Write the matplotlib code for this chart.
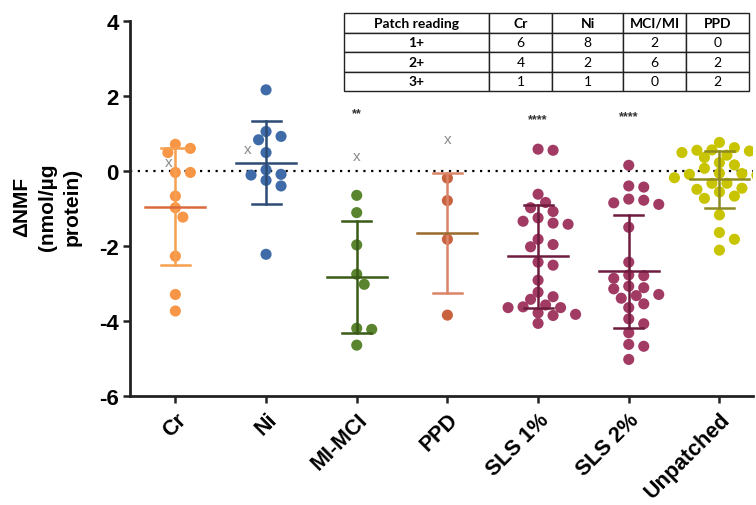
import numpy as np
import matplotlib
matplotlib.use("Agg")
import matplotlib.pyplot as plt

plt.rcParams['font.family'] = ['Liberation Sans', 'DejaVu Sans']
plt.rcParams['axes.unicode_minus'] = False

groups = ["Cr", "Ni", "MI-MCI", "PPD", "SLS 1%", "SLS 2%", "Unpatched"]

cr = [0.71, 0.60, 0.49, -0.04, -0.04, -0.67, -0.98, -1.23, -2.27, -3.29, -3.73]
ni = [2.16, 1.05, 0.92, 0.83, 0.49, 0.03, -0.09, -0.11, -0.25, -0.40, -2.22]
mi_mci = [-0.65, -1.11, -1.97, -2.75, -3.02, -4.19, -4.22, -4.64]
ppd = [-0.19, -0.79, -1.82, -3.84]
sls1 = [0.58, 0.55, -0.62, -0.98, -0.84, -1.08, -1.25, -1.39, -1.42, -1.34,
        -1.82, -2.02, -1.96, -2.43, -2.51, -2.91, -3.23, -3.35, -3.42, -3.57,
        -3.64, -3.64, -3.62, -3.82, -3.85, -3.78, -4.06]
sls2 = [0.15, -0.43, -0.40, -0.75, -0.85, -0.89, -0.78, -1.50, -2.43, -2.79,
        -2.86, -2.77, -3.07, -3.14, -3.11, -3.32, -3.39, -3.29, -3.54, -3.64,
        -3.94, -4.07, -4.31, -4.67, -4.62, -5.02]
unpatched = [0.76, 0.62, 0.55, 0.49, 0.53, 0.56, 0.42, 0.36, 0.16, 0.22, 0.07,
             -0.07, -0.11, -0.09, -0.06, -0.18, -0.33, -0.33, -0.46, -0.49,
             -0.56, -0.67, -0.73, -1.17, -1.64, -1.82, -2.11]
values = [cr, ni, mi_mci, ppd, sls1, sls2, unpatched]

# grey "x" marks (group index, value)
x_marks = [(0, 0.25), (1, 0.58), (2, 0.40), (3, 0.86)]
# significance stars (group index, text, height)
stars = [(2, "**", 1.54), (4, "****", 1.38), (5, "****", 1.46)]

table_cols = ["Patch reading", "Cr", "Ni", "MCI/MI", "PPD"]
table_rows = [["1+", "6", "8", "2", "0"],
              ["2+", "4", "2", "6", "2"],
              ["3+", "1", "1", "0", "2"]]

point_colors = ["#F79646", "#3F6CA8", "#5A842D", "#C9633F", "#A13B63", "#A13B63", "#C9C400"]
sd_colors = ["#F7A04F", "#2D4B75", "#3A5A17", "#DB8468", "#6E1C3E", "#6E1C3E", "#8F8C1E"]
mean_colors = ["#DA6A3E", "#2D4B75", "#3A5A17", "#9A6A2C", "#6E1C3E", "#6E1C3E", "#8F8C1E"]


def swarm(ax, xc, vals, diam, step):
    # simple beeswarm in pixel space
    pts = ax.transData.transform([(xc, v) for v in vals])
    order = np.argsort(-pts[:, 1])
    placed = []
    xs = np.zeros(len(vals))
    for i in order:
        px, py = pts[i]
        for k in range(40):
            off = ((k + 1) // 2) * step * (1 if k % 2 else -1) if k else 0
            ok = all((px + off - qx) ** 2 + (py - qy) ** 2 >= (diam * 0.98) ** 2
                     for qx, qy in placed)
            if ok:
                placed.append((px + off, py))
                xs[i] = px + off
                break
    inv = ax.transData.inverted()
    return inv.transform(np.column_stack([xs, pts[:, 1]]))[:, 0]


fig = plt.figure(figsize=(7.56, 5.06), dpi=100)
ax = fig.add_axes([0.172, 0.215, 0.824, 0.742])
ax.set_xlim(-0.5, 6.37)
ax.set_ylim(-6, 4)

ax.axhline(0, color="black", lw=1.6, ls=(0, (1, 2.5)), zorder=1)

for i, vals in enumerate(values):
    xs = swarm(ax, i, vals, 10.5, 7.5)
    ax.scatter(xs, vals, s=64, color=point_colors[i], edgecolors="none", zorder=3)
    m = np.mean(vals)
    sd = np.std(vals, ddof=1)
    ax.plot([i, i], [m - sd, m + sd], color=sd_colors[i], lw=1.8, zorder=4)
    for y in (m - sd, m + sd):
        ax.plot([i - 0.16, i + 0.16], [y, y], color=sd_colors[i], lw=1.8, zorder=4)
    ax.plot([i - 0.33, i + 0.33], [m, m], color=mean_colors[i], lw=1.8, zorder=4)

for gi, v in x_marks:
    dx = {0: -0.07, 1: -0.2}.get(gi, 0)
    ax.text(gi + dx, v, "x", color="#8a8a8a", fontsize=11, ha="center", va="center")

for gi, s, h in stars:
    ax.text(gi, h, s, color="#333333", fontsize=9, fontweight="bold", ha="center", va="center")

ax.set_yticks([-6, -4, -2, 0, 2, 4])
ax.set_xticks(range(len(groups)))
ax.set_xticklabels(groups, rotation=45, ha="right", rotation_mode="anchor")
for lab in ax.get_xticklabels():
    lab.set_fontweight("bold")
    lab.set_fontsize(15.5)
for lab in ax.get_yticklabels():
    lab.set_fontweight("bold")
    lab.set_fontsize(16)
ax.tick_params(axis="both", width=1.8, length=5, color="#222222")
ax.tick_params(axis="x", pad=4)
ax.tick_params(axis="y", pad=3)
for side in ("top", "right"):
    ax.spines[side].set_visible(False)
for side in ("left", "bottom"):
    ax.spines[side].set_linewidth(2)
    ax.spines[side].set_color("#222222")

fig.text(47 / 756, 1 - 207 / 506, "\u0394NMF\n(nmol/\u00b5g\nprotein)", rotation=90,
         ha="center", va="center", fontsize=15, fontweight="bold", linespacing=1.4,
         multialignment="center")

# reading table in the upper right
tax = fig.add_axes([344 / 756, 1 - 92 / 506, 405 / 756, 78 / 506])
tax.axis("off")
tbl = tax.table(cellText=table_rows, colLabels=table_cols, cellLoc="center",
                bbox=[0, 0, 1, 1], colWidths=[145, 63, 71, 63, 63])
tbl.auto_set_font_size(False)
for (r, c), cell in tbl.get_celld().items():
    cell.set_linewidth(1.0)
    cell.set_edgecolor("#222222")
    txt = cell.get_text()
    txt.set_fontfamily(["Lato", "DejaVu Sans"])
    txt.set_fontsize(10)
    if r == 0 or c == 0:
        txt.set_fontweight("bold")

fig.savefig("out.png", dpi=100)
